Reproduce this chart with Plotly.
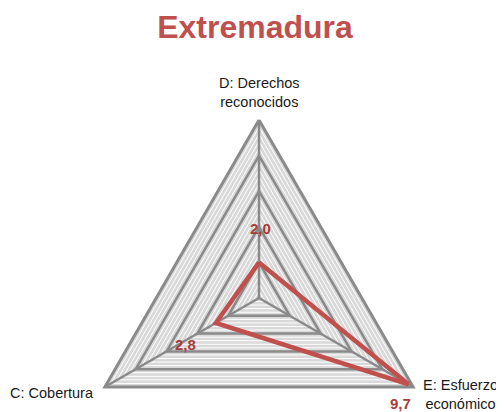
import math
import plotly.graph_objects as go

# datos del gráfico
titulo = "Extremadura"
categorias = ["D", "E", "C"]
etiquetas_eje = ["D: Derechos<br>reconocidos", "E: Esfuerzo<br>económico", "C: Cobertura"]
valores = [2.0, 9.7, 2.8]

r_max = 10
paso_mayor = 2
paso_menor = 0.4

# geometría de la figura (px). La página deja 8 px de margen y la ventana
# recorta lo que sobra por abajo, así el radar puede ocupar un círculo completo.
W, H = 504, 476
CX, CY = 251, 290      # centro del radar
R_PX = 178             # longitud del radio r_max
RANGO_EJE = 10.3       # un poco más que r_max para no recortar el borde exterior

ROJO = "#c0504d"
ROJO_TXT = "#a83c3a"
GRIS = "#8a8a8a"
FONDO = "#d9d9d9"
FUENTE = "Liberation Sans, Arial, sans-serif"

# ángulo de cada categoría (sentido horario, empezando arriba)
angulos = {c: 90 - 360 / len(categorias) * i for i, c in enumerate(categorias)}


def a_papel(r, cat):
    """Convierte (r, categoría) a coordenadas de papel para las anotaciones"""
    a = math.radians(angulos[cat])
    px = CX + R_PX * r / r_max * math.cos(a)
    py = CY - R_PX * r / r_max * math.sin(a)
    return px / W, 1 - py / H


cerrado = categorias + categorias[:1]
fig = go.Figure()

# fondo gris
fig.add_trace(go.Scatterpolar(
    r=[r_max] * len(cerrado), theta=cerrado, mode="lines",
    fill="toself", fillcolor=FONDO, line=dict(width=0, color=FONDO),
    hoverinfo="skip"
))

# líneas menores blancas
n_menor = int(round(r_max / paso_menor))
for k in range(1, n_menor):
    nivel = round(k * paso_menor, 4)
    if abs(nivel / paso_mayor - round(nivel / paso_mayor)) < 1e-6:
        continue
    fig.add_trace(go.Scatterpolar(
        r=[nivel] * len(cerrado), theta=cerrado, mode="lines",
        line=dict(color="white", width=1), hoverinfo="skip"
    ))

# radios
for c in categorias:
    fig.add_trace(go.Scatterpolar(
        r=[0, r_max], theta=[c, c], mode="lines",
        line=dict(color=GRIS, width=2.5), hoverinfo="skip"
    ))

# líneas mayores grises
for nivel in range(paso_mayor, r_max + 1, paso_mayor):
    fig.add_trace(go.Scatterpolar(
        r=[nivel] * len(cerrado), theta=cerrado, mode="lines",
        line=dict(color=GRIS, width=3 if nivel == r_max else 2.5),
        hoverinfo="skip"
    ))

# serie
fig.add_trace(go.Scatterpolar(
    r=valores + valores[:1], theta=cerrado, mode="lines",
    line=dict(color=ROJO, width=4.5)
))

rc = R_PX * RANGO_EJE / r_max
dominio_x = [(CX - rc) / W, (CX + rc) / W]
dominio_y = [1 - (CY + rc) / H, 1 - (CY - rc) / H]

# etiquetas de los ejes (mismo orden que categorias: D, E, C)
estilo_eje = [
    dict(xanchor="center", yanchor="bottom", xshift=0, yshift=8),
    dict(xanchor="left", yanchor="middle", xshift=8, yshift=-7),
    dict(xanchor="right", yanchor="middle", xshift=-9, yshift=-6),
]
anotaciones = []
for c, txt, est in zip(categorias, etiquetas_eje, estilo_eje):
    x, y = a_papel(r_max, c)
    anotaciones.append(dict(
        x=x, y=y, xref="paper", yref="paper", text=txt, showarrow=False,
        font=dict(family=FUENTE, size=14.5, color="#1a1a1a"), align="center", **est
    ))

# etiquetas de datos (D, E, C)
desplaz_dato = [(1, 34), (-8, -19), (-30, -22)]
for c, v, (dx, dy) in zip(categorias, valores, desplaz_dato):
    x, y = a_papel(v, c)
    anotaciones.append(dict(
        x=x, y=y, xref="paper", yref="paper",
        text=f"{v:.1f}".replace(".", ","), showarrow=False,
        xanchor="center", yanchor="middle", xshift=dx, yshift=dy,
        font=dict(family=FUENTE, size=15, color=ROJO_TXT, weight="bold")
    ))

fig.update_layout(
    width=W, height=H,
    margin=dict(l=0, r=0, t=0, b=0),
    paper_bgcolor="white",
    showlegend=False,
    title=dict(
        text=titulo, x=247 / W, xanchor="center", y=1 - 19 / H, yanchor="middle",
        font=dict(family=FUENTE, size=32, color=ROJO, weight="bold")
    ),
    polar=dict(
        domain=dict(x=dominio_x, y=dominio_y),
        bgcolor="rgba(0,0,0,0)",
        gridshape="linear",
        radialaxis=dict(range=[0, RANGO_EJE], visible=False, showgrid=False),
        angularaxis=dict(
            categoryarray=categorias, categoryorder="array",
            direction="clockwise", rotation=90,
            showgrid=False, showline=False, showticklabels=False, ticks=""
        ),
    ),
    annotations=anotaciones,
)

fig.write_html("out.html")
